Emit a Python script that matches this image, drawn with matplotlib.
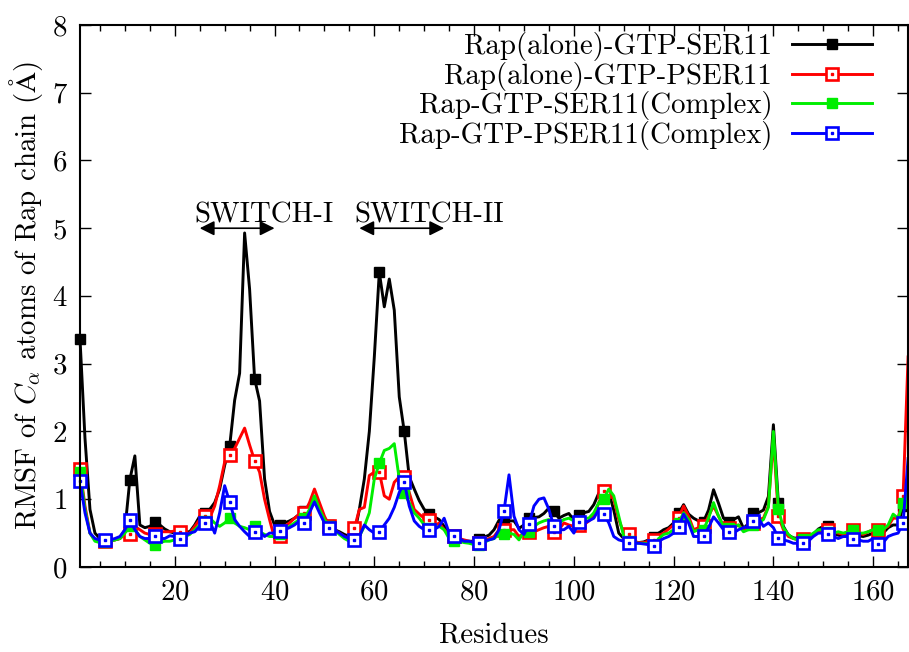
import numpy as np
import matplotlib
matplotlib.use("Agg")
import matplotlib.pyplot as plt
from matplotlib.legend_handler import HandlerTuple

plt.rcParams['font.family'] = 'serif'
plt.rcParams['font.serif'] = ['cmr10']
plt.rcParams['mathtext.fontset'] = 'cm'
plt.rcParams['axes.unicode_minus'] = False
plt.rcParams['axes.formatter.use_mathtext'] = True

residues = list(range(1, 168))

rap_ser11 = [3.37, 1.9, 0.85, 0.5, 0.42, 0.40, 0.40, 0.40, 0.42, 0.55,
             1.29, 1.64, 0.62, 0.58, 0.60, 0.66, 0.62, 0.56, 0.52, 0.50,
             0.52, 0.52, 0.52, 0.62, 0.75, 0.80, 0.85, 0.95, 1.15, 1.50,
             1.78, 2.46, 2.86, 4.93, 4.10, 2.78, 2.45, 1.30, 0.82, 0.62,
             0.62, 0.65, 0.68, 0.72, 0.78, 0.82, 0.92, 1.02, 0.85, 0.70,
             0.62, 0.55, 0.52, 0.48, 0.45, 0.48, 0.85, 1.30, 2.00, 3.10,
             4.35, 3.84, 4.25, 3.79, 2.51, 2.00, 1.33, 1.15, 0.98, 0.85,
             0.78, 0.74, 0.70, 0.60, 0.50, 0.45, 0.42, 0.38, 0.38, 0.38,
             0.42, 0.44, 0.47, 0.55, 0.69, 0.66, 0.68, 0.68, 0.57, 0.62,
             0.72, 0.73, 0.74, 0.79, 0.87, 0.82, 0.72, 0.76, 0.79, 0.69,
             0.77, 0.80, 0.82, 0.92, 1.09, 1.13, 1.10, 0.84, 0.50, 0.42,
             0.40, 0.36, 0.36, 0.37, 0.40, 0.44, 0.50, 0.55, 0.58, 0.65,
             0.79, 0.92, 0.78, 0.72, 0.68, 0.67, 0.84, 1.14, 0.94, 0.72,
             0.67, 0.70, 0.74, 0.57, 0.64, 0.79, 0.80, 0.84, 1.04, 2.10,
             0.94, 0.60, 0.47, 0.43, 0.42, 0.42, 0.42, 0.48, 0.56, 0.60,
             0.61, 0.50, 0.47, 0.45, 0.46, 0.47, 0.46, 0.45, 0.47, 0.50,
             0.50, 0.50, 0.58, 0.62, 0.62, 0.90, 0.85]

rap_pser11 = [1.45, 0.9, 0.5, 0.4, 0.38, 0.38, 0.38, 0.40, 0.42, 0.48,
              0.48, 0.60, 0.55, 0.50, 0.48, 0.48, 0.52, 0.52, 0.52, 0.53,
              0.52, 0.50, 0.50, 0.60, 0.70, 0.75, 0.72, 0.90, 1.20, 1.55,
              1.65, 1.75, 1.90, 2.05, 1.80, 1.57, 1.40, 1.00, 0.70, 0.42,
              0.45, 0.60, 0.65, 0.72, 0.78, 0.80, 0.95, 1.15, 0.95, 0.75,
              0.60, 0.55, 0.50, 0.45, 0.42, 0.57, 0.85, 0.88, 1.35, 1.40,
              1.40, 1.05, 1.00, 1.25, 1.33, 1.33, 1.10, 0.85, 0.78, 0.72,
              0.69, 0.60, 0.65, 0.55, 0.48, 0.45, 0.42, 0.40, 0.38, 0.35,
              0.35, 0.38, 0.42, 0.45, 0.55, 0.55, 0.55, 0.55, 0.45, 0.50,
              0.52, 0.52, 0.55, 0.58, 0.60, 0.52, 0.55, 0.65, 0.62, 0.60,
              0.62, 0.62, 0.68, 0.75, 0.95, 1.12, 1.12, 1.00, 0.70, 0.50,
              0.48, 0.38, 0.36, 0.36, 0.38, 0.40, 0.46, 0.50, 0.56, 0.62,
              0.72, 0.90, 0.75, 0.55, 0.58, 0.60, 0.75, 0.90, 0.75, 0.60,
              0.58, 0.58, 0.62, 0.55, 0.60, 0.65, 0.70, 0.72, 0.90, 1.90,
              0.75, 0.55, 0.45, 0.42, 0.40, 0.42, 0.44, 0.48, 0.52, 0.55,
              0.55, 0.52, 0.50, 0.48, 0.50, 0.55, 0.50, 0.48, 0.52, 0.55,
              0.55, 0.56, 0.60, 0.72, 0.72, 1.05, 3.10]

cplx_ser11 = [1.40, 0.85, 0.50, 0.38, 0.36, 0.37, 0.38, 0.40, 0.42, 0.50,
              0.60, 0.55, 0.45, 0.40, 0.35, 0.33, 0.36, 0.38, 0.38, 0.40,
              0.42, 0.45, 0.48, 0.55, 0.62, 0.68, 0.72, 0.65, 0.60, 0.65,
              0.72, 0.65, 0.60, 0.58, 0.55, 0.60, 0.52, 0.48, 0.45, 0.45,
              0.48, 0.55, 0.60, 0.65, 0.70, 0.72, 0.85, 1.05, 0.85, 0.70,
              0.60, 0.55, 0.48, 0.42, 0.38, 0.40, 0.45, 0.60, 0.80, 1.30,
              1.53, 1.72, 1.75, 1.82, 1.30, 1.09, 0.95, 0.80, 0.72, 0.62,
              0.58, 0.57, 0.60, 0.55, 0.42, 0.38, 0.38, 0.36, 0.35, 0.33,
              0.33, 0.36, 0.40, 0.42, 0.48, 0.48, 0.50, 0.48, 0.40, 0.52,
              0.52, 0.60, 0.65, 0.68, 0.70, 0.62, 0.65, 0.70, 0.72, 0.68,
              0.68, 0.72, 0.72, 0.80, 0.95, 1.00, 1.15, 1.05, 0.75, 0.45,
              0.38, 0.36, 0.35, 0.35, 0.34, 0.33, 0.42, 0.48, 0.50, 0.55,
              0.65, 0.80, 0.70, 0.52, 0.55, 0.55, 0.72, 0.95, 0.75, 0.60,
              0.58, 0.60, 0.62, 0.52, 0.55, 0.62, 0.65, 0.70, 0.88, 2.00,
              0.85, 0.58, 0.48, 0.42, 0.40, 0.42, 0.45, 0.50, 0.55, 0.55,
              0.52, 0.50, 0.52, 0.50, 0.52, 0.55, 0.50, 0.50, 0.52, 0.55,
              0.55, 0.55, 0.62, 0.78, 0.72, 0.95, 1.10]

cplx_pser11 = [1.27, 0.80, 0.50, 0.42, 0.40, 0.40, 0.40, 0.42, 0.45, 0.55,
               0.69, 0.55, 0.45, 0.42, 0.42, 0.45, 0.42, 0.42, 0.46, 0.45,
               0.42, 0.45, 0.50, 0.52, 0.60, 0.65, 0.68, 0.50, 0.80, 1.20,
               0.96, 0.70, 0.60, 0.52, 0.45, 0.52, 0.52, 0.45, 0.50, 0.50,
               0.53, 0.55, 0.58, 0.62, 0.68, 0.65, 0.80, 0.96, 0.80, 0.65,
               0.57, 0.55, 0.50, 0.45, 0.42, 0.40, 0.45, 0.62, 0.55, 0.50,
               0.52, 0.62, 0.72, 0.88, 1.10, 1.25, 0.90, 0.68, 0.60, 0.55,
               0.55, 0.55, 0.60, 0.72, 0.50, 0.46, 0.42, 0.38, 0.38, 0.36,
               0.35, 0.38, 0.40, 0.42, 0.55, 0.83, 1.36, 0.75, 0.55, 0.48,
               0.63, 0.90, 1.00, 1.02, 0.85, 0.60, 0.55, 0.55, 0.60, 0.50,
               0.66, 0.65, 0.68, 0.72, 0.85, 0.78, 0.65, 0.45, 0.40, 0.38,
               0.36, 0.35, 0.35, 0.34, 0.33, 0.31, 0.38, 0.42, 0.45, 0.50,
               0.59, 0.78, 0.65, 0.45, 0.45, 0.46, 0.58, 0.74, 0.65, 0.55,
               0.51, 0.50, 0.55, 0.58, 0.60, 0.68, 0.72, 0.60, 0.65, 0.58,
               0.43, 0.40, 0.38, 0.35, 0.35, 0.35, 0.38, 0.45, 0.50, 0.50,
               0.48, 0.45, 0.42, 0.45, 0.45, 0.41, 0.40, 0.38, 0.38, 0.42,
               0.34, 0.36, 0.45, 0.48, 0.50, 0.65, 1.60]

labels = ["Rap(alone)-GTP-SER11", "Rap(alone)-GTP-PSER11",
          "Rap-GTP-SER11(Complex)", "Rap-GTP-PSER11(Complex)"]
colors = ["#000000", "#ff0000", "#00ee00", "#0000ff"]
filled = [True, False, True, False]
series = [rap_ser11, rap_pser11, cplx_ser11, cplx_pser11]

switch_names = ["SWITCH-I", "SWITCH-II"]
switch_ranges = [(25, 40), (57, 74)]
switch_level = 5.0

FS = 20.8
fig = plt.figure(figsize=(9.09, 6.52), dpi=100)
ax = fig.add_axes([0.088, 0.1304, 0.911, 0.8313])

handles = []
for vals, lab, col, fill in zip(series, labels, colors, filled):
    if fill:
        ln, = ax.plot(residues, vals, color=col, lw=2.1, marker='s', ms=7,
                      mfc=col, mec=col, markevery=5, clip_on=False)
        handles.append(ln)
    else:
        ln, = ax.plot(residues, vals, color=col, lw=2.1, marker='s', ms=8.5,
                      mfc='white', mec=col, mew=1.9, markevery=5,
                      clip_on=False)
        dot, = ax.plot(residues, vals, ls='none', marker='s', ms=2,
                       mfc=col, mec=col, markevery=5, clip_on=False)
        handles.append((ln, dot))

for name, (a, b) in zip(switch_names, switch_ranges):
    ax.annotate('', xy=(a, switch_level), xytext=(b, switch_level),
                arrowprops=dict(arrowstyle='<|-|>', color='black', lw=1.2,
                                mutation_scale=22, shrinkA=0, shrinkB=0))
    ax.text(a - 1, switch_level + 0.08, name, fontsize=FS, ha='left',
            va='baseline')

ax.set_xlim(1, 167)
ax.set_ylim(0, 8)
ax.set_xticks(range(20, 161, 20))
ax.set_xticks(range(5, 167, 5), minor=True)
ax.set_yticks(range(0, 9))
ax.tick_params(which='both', direction='in', top=True, right=True,
               labelsize=FS, width=1.0)
ax.tick_params(which='major', length=8, pad=9)
ax.tick_params(which='minor', length=4)
for s in ax.spines.values():
    s.set_linewidth(1.5)

ax.set_xlabel('Residues', fontsize=FS, labelpad=12)
ax.set_ylabel(r'RMSF of $C_\alpha$ atoms of Rap chain ($\mathrm{\AA}$)',
              fontsize=FS, labelpad=5)

leg = ax.legend(handles, labels, loc='upper right',
                bbox_to_anchor=(0.965, 1.0), fontsize=FS,
                markerfirst=False, frameon=False, numpoints=1,
                handlelength=2.75, handletextpad=0.7, labelspacing=0.02,
                borderaxespad=0.1, borderpad=0.15,
                handler_map={tuple: HandlerTuple(ndivide=1)})

fig.savefig('out.png', dpi=100)
